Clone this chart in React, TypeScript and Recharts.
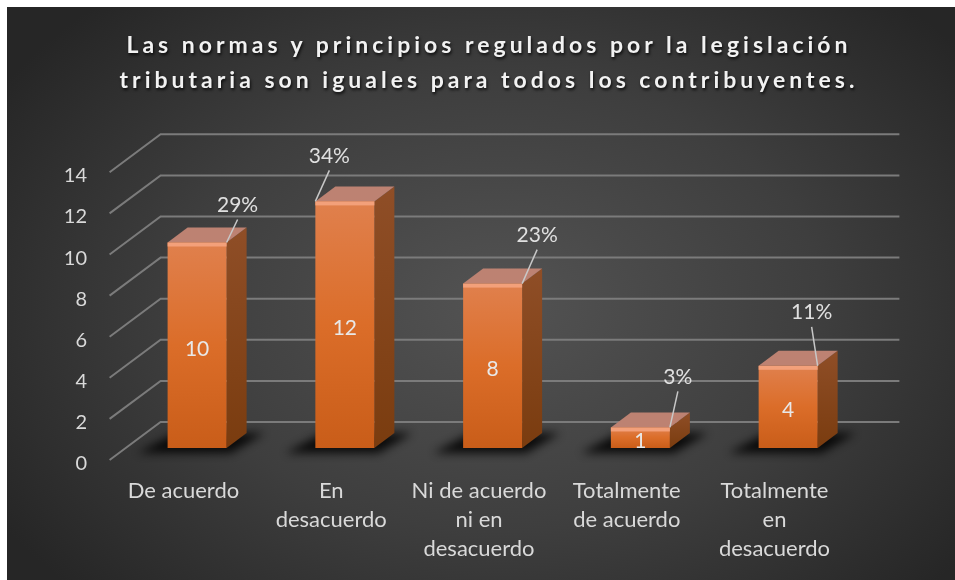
import React from "react";
import { BarChart, Bar, XAxis, YAxis, CartesianGrid } from "recharts";

const categories = [
  "De acuerdo",
  "En desacuerdo",
  "Ni de acuerdo ni en desacuerdo",
  "Totalmente de acuerdo",
  "Totalmente en desacuerdo",
];
const categoryLines = [
  ["De acuerdo"],
  ["En", "desacuerdo"],
  ["Ni de acuerdo", "ni en", "desacuerdo"],
  ["Totalmente", "de acuerdo"],
  ["Totalmente", "en", "desacuerdo"],
];
const counts = [10, 12, 8, 1, 4];
const percentLabels = ["29%", "34%", "23%", "3%", "11%"];
const yTicks = [0, 2, 4, 6, 8, 10, 12, 14];

const data = categories.map((name, i) => ({
  name,
  count: counts[i],
  pct: percentLabels[i],
  idx: i,
}));

// fake 3d: offsets of the front plane / back wall from the bars' plane
const FRONT = { dx: -14, dy: 12 };
const BACK = { dx: 37, dy: -26 };
const DEPTH = { dx: 20, dy: -15 };

// where each percentage label sits, relative to the bar's top corner
const pctNudge = [
  { side: "right", ox: 11, oy: -39 },
  { side: "left", ox: 14, oy: -47 },
  { side: "right", ox: 15, oy: -50 },
  { side: "right", ox: 8, oy: -52 },
  { side: "right", ox: -6, oy: -55 },
];

const FONT = "Lato, 'Open Sans', sans-serif";
const TEXT = "#d9d9d9";

function Bar3D(props: any) {
  const { x, y, width: w, height: h, payload } = props;
  const i = payload.idx;
  const base = y + h;
  const { dx, dy } = DEPTH;
  const n = pctNudge[i];
  const cx = n.side === "right" ? x + w : x;
  const lx = cx + n.ox;
  const ly = y + n.oy;
  return (
    <g>
      <polygon
        points={`${x - 30},${base + 5} ${x + w + 4},${base + 5} ${x + w + dx + 18},${base + dy} ${x + dx - 12},${base + dy}`}
        fill="#000"
        opacity={0.85}
        filter="url(#barShadow)"
      />
      <polygon
        points={`${x + w},${y} ${x + w + dx},${y + dy} ${x + w + dx},${base + dy} ${x + w},${base}`}
        fill="url(#sideFill)"
      />
      <polygon
        points={`${x},${y} ${x + dx},${y + dy} ${x + w + dx},${y + dy} ${x + w},${y}`}
        fill="#bd8272"
      />
      <rect x={x} y={y} width={w} height={h} fill="url(#frontFill)" />
      <rect x={x} y={y} width={w} height={Math.min(4, h)} fill="#f3a07a" />
      <text
        x={x + w / 2}
        y={y + h / 2 + 2}
        textAnchor="middle"
        dominantBaseline="central"
        fill="#e8e8e8"
        fontSize={21}
        fontFamily={FONT}
      >
        {payload.count}
      </text>
      <line x1={lx} y1={ly + 16} x2={cx} y2={y} stroke="#c8c8c8" strokeWidth={1.5} />
      <text
        x={lx}
        y={ly}
        textAnchor="middle"
        dominantBaseline="central"
        fill="#e0e0e0"
        fontSize={21}
        fontFamily={FONT}
      >
        {payload.pct}
      </text>
    </g>
  );
}

function YTick(props: any) {
  const { y, payload } = props;
  return (
    <text
      x={80}
      y={y + FRONT.dy + 2}
      textAnchor="end"
      dominantBaseline="central"
      fill={TEXT}
      fontSize={20}
      fontFamily={FONT}
    >
      {payload.value}
    </text>
  );
}

function XTick(props: any) {
  const { x, y, payload } = props;
  const lines = categoryLines[categories.indexOf(payload.value)] || [];
  const tx = x + FRONT.dx;
  return (
    <text
      x={tx}
      y={y + 50}
      textAnchor="middle"
      fill={TEXT}
      fontSize={22}
      fontFamily={FONT}
    >
      {lines.map((l, k) => (
        <tspan key={k} x={tx} dy={k === 0 ? 0 : 29}>
          {l}
        </tspan>
      ))}
    </text>
  );
}

const renderGridLine = (p: any) => {
  const { x1, x2, y1 } = p;
  const pts = `${x1 + FRONT.dx},${y1 + FRONT.dy} ${x1 + BACK.dx},${y1 + BACK.dy} ${x2 + BACK.dx},${y1 + BACK.dy}`;
  return (
    <polyline
      key={`grid-${y1}`}
      points={pts}
      fill="none"
      stroke="#7b7b7b"
      strokeWidth={2}
    />
  );
};

export default function App() {
  const W = 948;
  const H = 573;
  return (
    <div
      style={{
        position: "fixed",
        left: 7,
        top: 7,
        width: W,
        height: H,
        overflow: "hidden",
        background:
          "radial-gradient(ellipse 62% 72% at 52% 52%, #535353 0%, #3e3e3e 55%, #262626 100%)",
      }}
    >
      <div
        style={{
          position: "absolute",
          top: 20,
          left: 8,
          width: W,
          textAlign: "center",
          color: "#f2f2f2",
          fontFamily: FONT,
          fontWeight: 700,
          fontSize: 23,
          lineHeight: "35px",
          letterSpacing: 4,
          textShadow: "1px 2px 3px rgba(0,0,0,0.8)",
        }}
      >
        <div>Las normas y principios regulados por la legislación</div>
        <div>tributaria son iguales para todos los contribuyentes.</div>
      </div>
      <BarChart
        width={W}
        height={H}
        data={data}
        margin={{ top: 153.3, right: 92.6, bottom: 32, left: 56.6 }}
        style={{ position: "absolute", left: 0, top: 0 }}
      >
        <defs>
          <linearGradient id="frontFill" x1="0" y1="0" x2="0" y2="1">
            <stop offset="0%" stopColor="#e0804d" />
            <stop offset="50%" stopColor="#db6d29" />
            <stop offset="100%" stopColor="#c95d19" />
          </linearGradient>
          <linearGradient id="sideFill" x1="0" y1="0" x2="0" y2="1">
            <stop offset="0%" stopColor="#8f4e27" />
            <stop offset="100%" stopColor="#7a3c0f" />
          </linearGradient>
          <filter id="barShadow" x="-50%" y="-100%" width="200%" height="300%">
            <feGaussianBlur stdDeviation="5" />
          </filter>
        </defs>
        <CartesianGrid vertical={false} horizontal={renderGridLine} />
        <XAxis
          dataKey="name"
          height={100}
          axisLine={false}
          tickLine={false}
          tickSize={0}
          tickMargin={0}
          interval={0}
          tick={<XTick />}
        />
        <YAxis
          width={60}
          domain={[0, 14]}
          ticks={yTicks}
          axisLine={false}
          tickLine={false}
          tickSize={0}
          tickMargin={0}
          tick={<YTick />}
        />
        <Bar dataKey="count" barSize={59} shape={<Bar3D />} isAnimationActive={false} />
      </BarChart>
    </div>
  );
}
